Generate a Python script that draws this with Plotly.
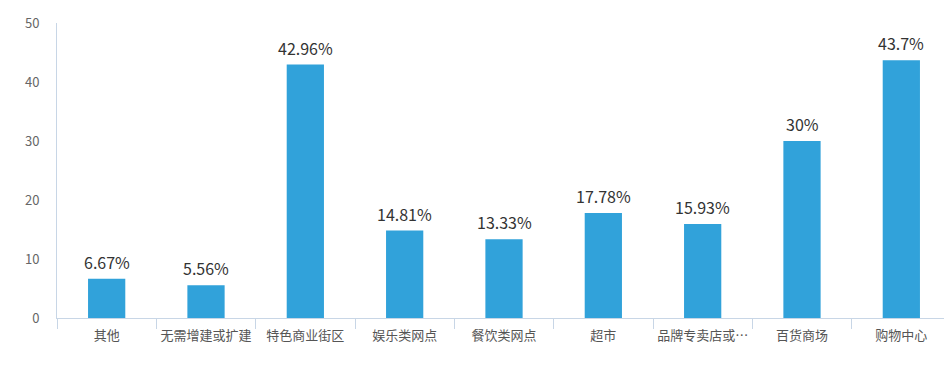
import plotly.graph_objects as go

categories = ["其他", "无需增建或扩建", "特色商业街区", "娱乐类网点", "餐饮类网点",
              "超市", "品牌专卖店或…", "百货商场", "购物中心"]
values = [6.67, 5.56, 42.96, 14.81, 13.33, 17.78, 15.93, 30, 43.7]
labels = ["6.67%", "5.56%", "42.96%", "14.81%", "13.33%", "17.78%", "15.93%", "30%", "43.7%"]
y_ticks = [0, 10, 20, 30, 40, 50]

font_family = "Noto Sans CJK SC, Noto Sans, sans-serif"

fig = go.Figure(go.Bar(
    x=categories, y=values,
    marker=dict(color="#31a2da", line=dict(width=0)),
    width=0.375, cliponaxis=False,
))

for c, v, t in zip(categories, values, labels):
    fig.add_annotation(x=c, y=v, text=t, showarrow=False, yanchor="bottom",
                       yshift=3, font=dict(size=16, color="#333333", family=font_family))

fig.update_layout(
    width=944, height=369,
    margin=dict(l=49, r=1, t=15, b=59, autoexpand=False),
    paper_bgcolor="white", plot_bgcolor="white",
    font=dict(family=font_family, size=13, color="#666666"),
    showlegend=False,
)
fig.update_xaxes(
    type="category", showline=True, linecolor="#c8d6e6", linewidth=1,
    ticks="outside", tickson="boundaries", ticklen=10, tickcolor="#c8d6e6",
    ticklabelstandoff=5, tickangle=0,
    tickfont=dict(size=13, color="#555555"), showgrid=False, automargin=False,
)
fig.update_yaxes(
    range=[0, 50], tickvals=y_ticks, showline=True, linecolor="#c8d6e6", linewidth=1,
    showgrid=False, zeroline=False, ticks="", ticklabelstandoff=14,
    tickfont=dict(size=13, color="#666666"), automargin=False,
)

fig.write_html("out.html")
